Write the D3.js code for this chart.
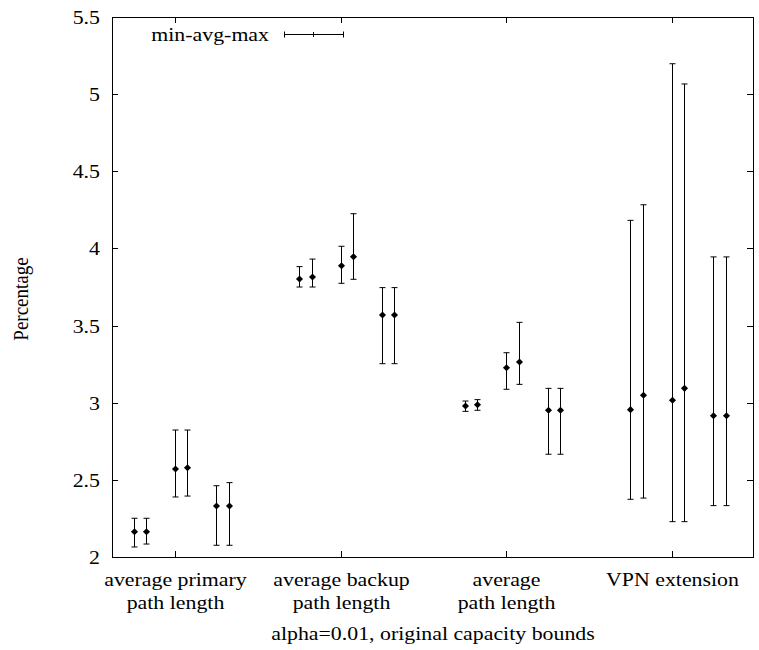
<!DOCTYPE html>
<html>
<head>
<meta charset="utf-8">
<script src="https://cdn.jsdelivr.net/npm/d3@7"></script>
<style>
  body { margin: 0; background: #fff; }
</style>
</head>
<body>
<div id="chart"></div>
<script>
{
  // categories on the x axis (one entry per line of the label)
  const categories = [
    ["average primary", "path length"],
    ["average backup", "path length"],
    ["average", "path length"],
    ["VPN extension"]
  ];
  // x offset of each of the six series around the category tick
  const seriesOffsets = [-0.25, -0.175, 0, 0.075, 0.25, 0.325];

  // one row per series, one column per category
  const avgVals = [
    [2.164, 3.802, 2.979, 2.955],
    [2.164, 3.815, 2.987, 3.048],
    [2.570, 3.888, 3.227, 3.016],
    [2.579, 3.946, 3.264, 3.093],
    [2.331, 3.568, 2.951, 2.916],
    [2.331, 3.568, 2.951, 2.916]
  ];
  const minVals = [
    [2.065, 3.750, 2.944, 2.374],
    [2.084, 3.750, 2.951, 2.382],
    [2.389, 3.774, 3.087, 2.229],
    [2.395, 3.800, 3.119, 2.229],
    [2.076, 3.253, 2.666, 2.333],
    [2.076, 3.253, 2.666, 2.333]
  ];
  const maxVals = [
    [2.251, 3.882, 3.011, 4.182],
    [2.251, 3.931, 3.020, 4.283],
    [2.823, 4.014, 3.324, 5.197],
    [2.823, 4.225, 3.521, 5.066],
    [2.462, 3.746, 3.093, 3.945],
    [2.482, 3.746, 3.093, 3.945]
  ];
  const yTicks = [2, 2.5, 3, 3.5, 4, 4.5, 5, 5.5];

  const width = 759;
  const height = 650;
  const left = 112, right = 753, top = 17, bottom = 557;
  const tickLen = 6;
  const capHalf = 3;
  // the picture is a bit wider than tall, text looks stretched sideways
  const stretch = 1.15;

  const x = d3.scaleLinear().domain([0.62, 4.49]).range([left, right]);
  const y = d3.scaleLinear().domain([2, 5.5]).range([bottom, top]);

  const svg = d3.select("#chart")
    .append("svg")
    .attr("width", width)
    .attr("height", height);

  function label(parent, tx, ty, str, anchor, rot) {
    return parent.append("text")
      .attr("transform", `translate(${tx},${ty}) scale(${stretch},1)` + (rot ? ` rotate(${rot})` : ""))
      .attr("font-family", "Liberation Serif")
      .attr("font-size", 19)
      .attr("fill", "#000")
      .attr("text-anchor", anchor)
      .text(str);
  }

  // frame
  svg.append("rect")
    .attr("x", left + 0.5)
    .attr("y", top + 0.5)
    .attr("width", right - left)
    .attr("height", bottom - top)
    .attr("fill", "none")
    .attr("stroke", "#000")
    .attr("stroke-width", 1);

  // y ticks, mirrored on the right, inward
  const yt = svg.append("g");
  yTicks.forEach(t => {
    const py = Math.round(y(t)) + 0.5;
    yt.append("line").attr("x1", left).attr("x2", left + tickLen)
      .attr("y1", py).attr("y2", py).attr("stroke", "#000");
    yt.append("line").attr("x1", right - tickLen).attr("x2", right)
      .attr("y1", py).attr("y2", py).attr("stroke", "#000");
    label(yt, 100, py + 6.5, d3.format("")(t), "end");
  });

  // x ticks, mirrored on top, and category labels
  const xt = svg.append("g");
  categories.forEach((lines, i) => {
    const px = Math.round(x(i + 1)) + 0.5;
    xt.append("line").attr("x1", px).attr("x2", px)
      .attr("y1", bottom).attr("y2", bottom - tickLen).attr("stroke", "#000");
    xt.append("line").attr("x1", px).attr("x2", px)
      .attr("y1", top).attr("y2", top + tickLen).attr("stroke", "#000");
    lines.forEach((l, j) => {
      label(xt, px, 586 + j * 23, l, "middle");
    });
  });

  // axis titles
  label(svg, 433, 640, "alpha=0.01, original capacity bounds", "middle");
  label(svg, 28, 299, "Percentage", "middle", -90);

  // error bars
  const bars = [];
  seriesOffsets.forEach((off, s) => {
    categories.forEach((c, i) => {
      bars.push({ cx: i + 1 + off, avg: avgVals[s][i], min: minVals[s][i], max: maxVals[s][i] });
    });
  });

  const g = svg.append("g");
  const bar = g.selectAll(".bar")
    .data(bars)
    .enter()
    .append("g")
    .attr("class", "bar");

  const px = d => Math.round(x(d.cx)) + 0.5;

  bar.append("line")
    .attr("x1", px).attr("x2", px)
    .attr("y1", d => y(d.min)).attr("y2", d => y(d.max))
    .attr("stroke", "#000");
  bar.append("line")
    .attr("x1", d => px(d) - capHalf).attr("x2", d => px(d) + capHalf)
    .attr("y1", d => y(d.min)).attr("y2", d => y(d.min))
    .attr("stroke", "#000");
  bar.append("line")
    .attr("x1", d => px(d) - capHalf).attr("x2", d => px(d) + capHalf)
    .attr("y1", d => y(d.max)).attr("y2", d => y(d.max))
    .attr("stroke", "#000");
  bar.append("path")
    .attr("d", d3.symbol(d3.symbolSquare, 25)())
    .attr("transform", d => `translate(${px(d)},${y(d.avg)}) rotate(45)`)
    .attr("fill", "#000");

  // legend
  const legend = svg.append("g");
  const ly = 34.5;
  label(legend, 269, ly + 6.5, "min-avg-max", "end");
  legend.append("line").attr("x1", 284).attr("x2", 343)
    .attr("y1", ly).attr("y2", ly).attr("stroke", "#000");
  [284, 343].forEach(lx => {
    legend.append("line").attr("x1", lx + 0.5).attr("x2", lx + 0.5)
      .attr("y1", ly - 3).attr("y2", ly + 3).attr("stroke", "#000");
  });
  legend.append("line").attr("x1", 313.5).attr("x2", 313.5)
    .attr("y1", ly - 2.5).attr("y2", ly + 2.5).attr("stroke", "#000");
}
</script>
</body>
</html>
